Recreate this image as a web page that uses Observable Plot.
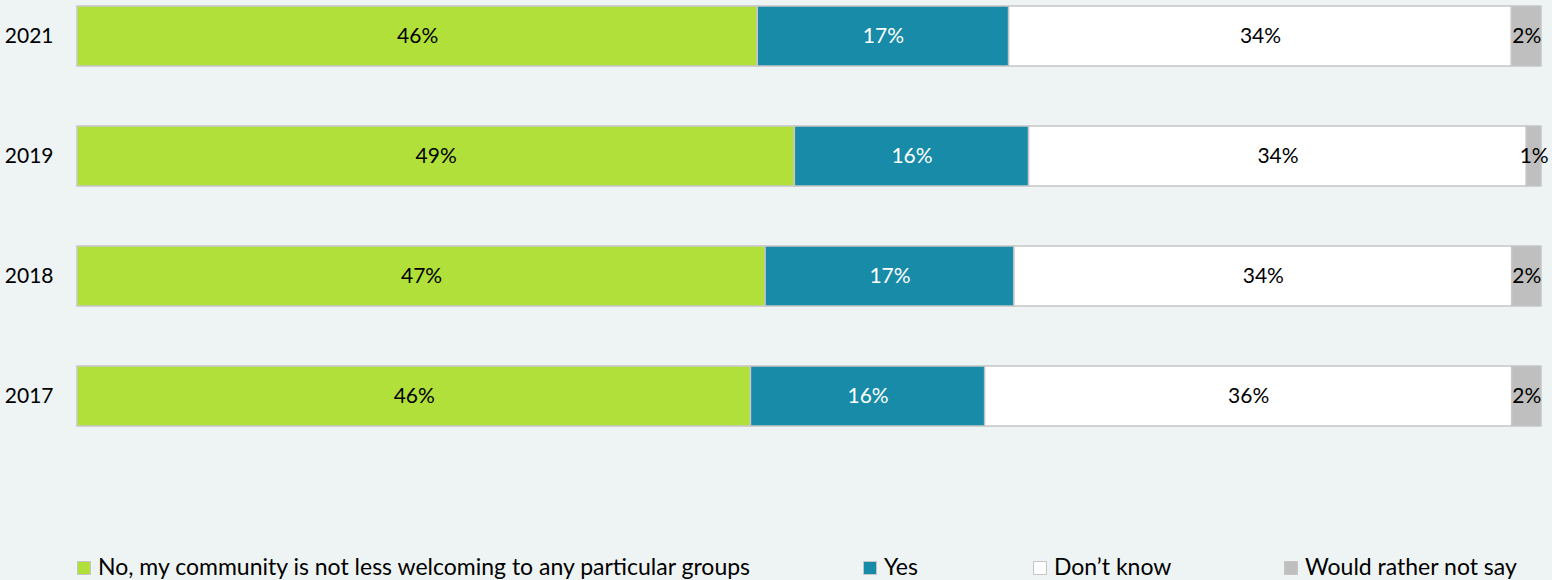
<!DOCTYPE html>
<html>
<head>
<meta charset="utf-8">
<script src="https://cdn.jsdelivr.net/npm/d3@7"></script>
<script src="https://cdn.jsdelivr.net/npm/@observablehq/plot@0.6"></script>
<style>
  html, body { margin: 0; padding: 0; background: #eef4f4; }
  body { width: 1552px; height: 580px; position: relative; overflow: hidden; font-family: Lato, "Open Sans", sans-serif; }
  #chart { position: absolute; left: 0; top: 0; }
  .leg { position: absolute; top: 554px; font-size: 23px; color: #000; white-space: nowrap; line-height: 24px; }
  .leg .sw { position: absolute; left: 0; top: 7px; width: 14px; height: 14px; box-sizing: border-box; border: 1px solid #c6c6c6; }
  .leg .lb { position: absolute; top: 0; }
</style>
</head>
<body>
<div id="chart"></div>
<div id="legend"></div>
<script>
const years = ["2021", "2019", "2018", "2017"];
const categories = ["No, my community is not less welcoming to any particular groups", "Yes", "Don\u2019t know", "Would rather not say"];
const noValues = [46, 49, 47, 46];
const yesValues = [17, 16, 17, 16];
const dontKnowValues = [34, 34, 34, 36];
const ratherNotValues = [2, 1, 2, 2];
const colors = ["#b1e03a", "#178ba7", "#ffffff", "#bfbfbf"];
const textColors = ["#000000", "#ffffff", "#000000", "#000000"];

const series = [noValues, yesValues, dontKnowValues, ratherNotValues];
const data = [];
years.forEach((yr, i) => {
  categories.forEach((c, j) => {
    data.push({year: yr, cat: c, value: series[j][i], tcolor: textColors[j]});
  });
});

const chart = Plot.plot({
  width: 1552,
  height: 432,
  marginLeft: 77,
  marginRight: 11,
  marginTop: 0,
  marginBottom: 0,
  style: {background: "transparent", fontFamily: "Lato, 'Open Sans', sans-serif", fontSize: "21px", color: "#000"},
  x: {axis: null},
  y: {domain: years, paddingInner: 0.5, paddingOuter: 0.05, label: null, tickSize: 0, tickPadding: 24},
  color: {domain: categories, range: colors},
  marks: [
    Plot.barX(data, Plot.stackX({
      x: "value", y: "year", fill: "cat", offset: "normalize", order: categories,
      stroke: "#c6c6c6", strokeWidth: 1.5
    })),
    Plot.textX(data, Plot.stackX({
      x: "value", y: "year", z: "cat", offset: "normalize", order: categories,
      text: d => d.value + "%", fill: "tcolor", fontSize: 21
    })),
    Plot.axisY({tickSize: 0, tickPadding: 24, fontSize: 21, label: null})
  ]
});
document.getElementById("chart").appendChild(chart);

const legendPos = [77, 863, 1033, 1284];
const leg = document.getElementById("legend");
categories.forEach((c, j) => {
  const item = document.createElement("div");
  item.className = "leg";
  item.style.left = legendPos[j] + "px";
  const sw = document.createElement("span");
  sw.className = "sw";
  sw.style.background = colors[j];
  const lb = document.createElement("span");
  lb.className = "lb";
  lb.style.left = "21px";
  lb.textContent = c;
  item.appendChild(sw);
  item.appendChild(lb);
  leg.appendChild(item);
});
</script>
</body>
</html>
